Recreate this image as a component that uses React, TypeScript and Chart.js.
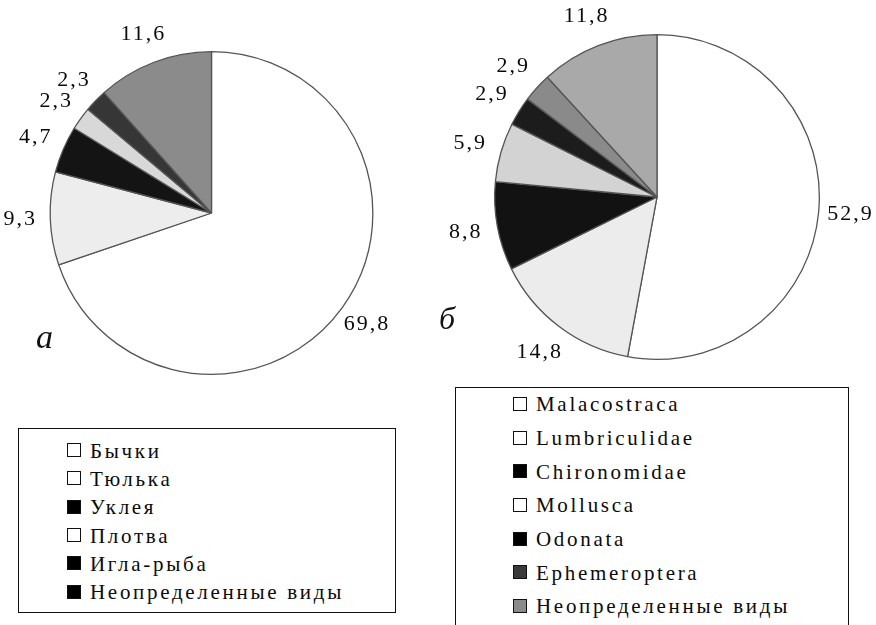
import React, { useEffect, useRef } from 'react';
import { Chart, registerables } from 'chart.js';

Chart.register(...registerables);

// ---- Data ----
const fishCategories = ['Бычки', 'Тюлька', 'Уклея', 'Плотва', 'Игла-рыба', 'Неопределенные виды'];
const fishValues = [69.8, 9.3, 4.7, 2.3, 2.3, 11.6];

const invertCategories = ['Malacostraca', 'Lumbriculidae', 'Chironomidae', 'Mollusca', 'Odonata', 'Ephemeroptera', 'Неопределенные виды'];
const invertValues = [52.9, 14.8, 8.8, 5.9, 2.9, 2.9, 11.8];

const panelLetters = ['а', 'б'];

// ---- Styles ----
const fishSliceColors = ['#ffffff', '#ededed', '#141414', '#d8d8d8', '#363636', '#8b8b8b'];
const invertSliceColors = ['#ffffff', '#ececec', '#121212', '#d3d3d3', '#1c1c1c', '#8a8a8a', '#a9a9a9'];
const fishLegendColors = ['#ffffff', '#ffffff', '#000000', '#ffffff', '#000000', '#000000'];
const invertLegendColors = ['#ffffff', '#ffffff', '#000000', '#ffffff', '#000000', '#3a3a3a', '#8a8a8a'];

const SERIF = '"Liberation Serif", "Times New Roman", "DejaVu Serif", serif';

const fmt = (v: number) => v.toFixed(1).replace('.', ',');

const outsideLabels = {
  id: 'outsideLabels',
  afterDatasetsDraw(chart: any, _args: any, opts: any) {
    const ctx = chart.ctx;
    const meta = chart.getDatasetMeta(0);
    const data = chart.data.datasets[0].data as number[];
    ctx.save();
    ctx.fillStyle = '#0a0a0a';
    ctx.font = `22px ${SERIF}`;
    (ctx as any).letterSpacing = '2px';
    ctx.textAlign = 'center';
    ctx.textBaseline = 'middle';
    meta.data.forEach((arc: any, i: number) => {
      const p = arc.getProps(['x', 'y', 'startAngle', 'endAngle', 'outerRadius'], true);
      const mid = (p.startAngle + p.endAngle) / 2;
      const r = p.outerRadius + (opts.offset || 30);
      ctx.fillText(fmt(data[i]), p.x + Math.cos(mid) * r, p.y + Math.sin(mid) * r);
    });
    ctx.restore();
  },
};

type PieProps = {
  values: number[];
  labels: string[];
  colors: string[];
  left: number;
  top: number;
  width: number;
  height: number;
  padding: { left: number; right: number; top: number; bottom: number };
  offset: number;
};

function PieCanvas(props: PieProps) {
  const ref = useRef<HTMLCanvasElement | null>(null);
  useEffect(() => {
    if (!ref.current) return;
    const chart = new Chart(ref.current, {
      type: 'pie',
      data: {
        labels: props.labels,
        datasets: [
          {
            data: props.values,
            backgroundColor: props.colors,
            borderColor: '#555555',
            borderWidth: 1.3,
          },
        ],
      },
      options: {
        responsive: false,
        animation: false,
        layout: { padding: props.padding },
        plugins: {
          legend: { display: false },
          tooltip: { enabled: false },
          outsideLabels: { offset: props.offset },
        } as any,
      },
      plugins: [outsideLabels],
    });
    return () => chart.destroy();
  }, []);
  return (
    <canvas
      ref={ref}
      width={props.width}
      height={props.height}
      style={{ position: 'absolute', left: props.left, top: props.top, width: props.width, height: props.height }}
    />
  );
}

type LegendProps = {
  items: string[];
  colors: string[];
  left: number;
  top: number;
  width: number;
  height: number;
  rowHeight: number;
  padTop: number;
  padLeft: number;
};

function Legend(p: LegendProps) {
  return (
    <div
      style={{
        position: 'absolute',
        left: p.left,
        top: p.top,
        width: p.width,
        height: p.height,
        border: '1.5px solid #111',
        boxSizing: 'border-box',
        background: '#fff',
        paddingTop: p.padTop,
        paddingLeft: p.padLeft,
        fontFamily: SERIF,
        fontSize: 21,
        letterSpacing: '2.7px',
        color: '#0a0a0a',
      }}
    >
      {p.items.map((name, i) => (
        <div key={i} style={{ height: p.rowHeight, display: 'flex', alignItems: 'center', whiteSpace: 'nowrap' }}>
          <span
            style={{
              display: 'inline-block',
              width: 14,
              height: 14,
              border: '1.5px solid #111',
              boxSizing: 'border-box',
              background: p.colors[i],
              marginRight: 9,
              marginTop: -2,
            }}
          />
          <span>{name}</span>
        </div>
      ))}
    </div>
  );
}

export default function App() {
  return (
    <div style={{ position: 'absolute', left: 0, top: 0, width: 876, height: 625, background: '#fff', overflow: 'hidden' }}>
      <PieCanvas
        values={fishValues}
        labels={fishCategories}
        colors={fishSliceColors}
        left={0}
        top={0}
        width={430}
        height={420}
        padding={{ left: 49.5, right: 56.5, top: 51, bottom: 45 }}
        offset={30}
      />
      <PieCanvas
        values={invertValues}
        labels={invertCategories}
        colors={invertSliceColors}
        left={440}
        top={0}
        width={436}
        height={400}
        padding={{ left: 54, right: 56, top: 34, bottom: 40 }}
        offset={32}
      />
      <div style={{ position: 'absolute', left: 36, top: 318, fontFamily: SERIF, fontStyle: 'italic', fontSize: 34, color: '#111' }}>
        {panelLetters[0]}
      </div>
      <div style={{ position: 'absolute', left: 439, top: 300, fontFamily: SERIF, fontStyle: 'italic', fontSize: 32, color: '#111' }}>
        {panelLetters[1]}
      </div>
      <Legend
        items={fishCategories}
        colors={fishLegendColors}
        left={18}
        top={428}
        width={378}
        height={185}
        rowHeight={28.3}
        padTop={8}
        padLeft={48}
      />
      <Legend
        items={invertCategories}
        colors={invertLegendColors}
        left={455}
        top={387}
        width={394}
        height={245}
        rowHeight={33.7}
        padTop={0}
        padLeft={57}
      />
    </div>
  );
}
